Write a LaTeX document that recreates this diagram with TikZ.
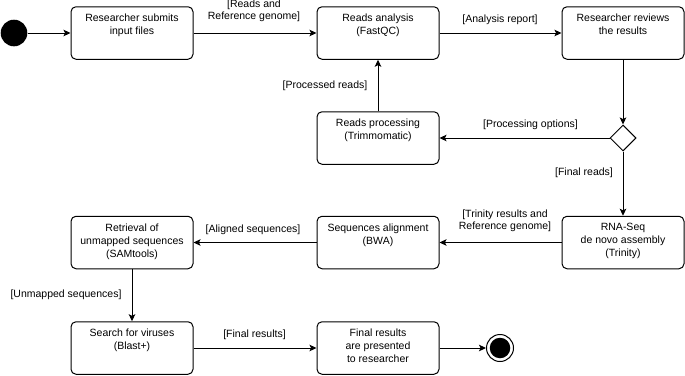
\documentclass[tikz,border=0pt]{standalone}
\usepackage{fontspec}
\setmainfont{Liberation Sans}
\usetikzlibrary{arrows.meta,shapes.geometric}
\tikzset{
  act/.style={draw=black,line width=1pt,rounded corners=5pt,minimum width=122pt,minimum height=52.5pt,inner sep=0pt},
  boxtxt/.style={anchor=north,inner sep=0pt,align=center,font=\fontsize{10.5}{13}\selectfont},
  lbl/.style={inner sep=0pt,align=center,font=\fontsize{10.5}{12}\selectfont},
  flow/.style={draw=black,line width=1pt,-{Stealth[length=7pt,width=6.5pt,inset=1.5pt]}},
  dec/.style={draw=black,line width=1pt,diamond,minimum width=26pt,minimum height=26pt,inner sep=0pt}
}
\begin{document}
\begin{tikzpicture}[x=1pt,y=-1pt]
\useasboundingbox (0,0) rectangle (685,375);
% start
\node[circle,fill=black,minimum size=26.6pt,inner sep=0pt] (start) at (14,33) {};
% boxes
\node[act] (b1) at (132,33) {};
\node[boxtxt] (t1) at ([yshift=-7.5pt]b1.north) {Researcher submits\\input files};
\node[act] (b2) at (378,33) {};
\node[boxtxt] (t2) at ([yshift=-7.5pt]b2.north) {Reads analysis\\(FastQC)};
\node[act] (b3) at (623,33) {};
\node[boxtxt] (t3) at ([yshift=-7.5pt]b3.north) {Researcher reviews\\the results};
\node[act] (proc) at (378,138) {};
\node[boxtxt] (tp) at ([yshift=-7.5pt]proc.north) {Reads processing\\(Trimmomatic)};
\node[dec] (d) at (623,138) {};
\node[act] (rna) at (623,242.5) {};
\node[boxtxt] (tr) at ([yshift=-7.5pt]rna.north) {RNA-Seq\\de novo assembly\\(Trinity)};
\node[act] (seq) at (378,242.5) {};
\node[boxtxt] (ts) at ([yshift=-7.5pt]seq.north) {Sequences alignment\\(BWA)};
\node[act] (ret) at (132,242.5) {};
\node[boxtxt] (tre) at ([yshift=-7.5pt]ret.north) {Retrieval of\\unmapped sequences\\(SAMtools)};
\node[act] (srch) at (132,348) {};
\node[boxtxt] (tsr) at ([yshift=-7.5pt]srch.north) {Search for viruses\\(Blast+)};
\node[act] (fin) at (378,348) {};
\node[boxtxt] (tf) at ([yshift=-7.5pt]fin.north) {Final results\\are presented\\to researcher};
% end
\node[circle,draw=black,line width=1pt,minimum size=27pt,inner sep=0pt] (end) at (500,348) {};
\node[circle,fill=black,minimum size=20.5pt,inner sep=0pt] (endin) at (500,348) {};
% connectors
\draw[flow] (start) -- (b1);
\draw[flow] (b1) -- (b2);
\draw[flow] (b2) -- (b3);
\draw[flow] (b3) -- (d);
\draw[flow] (d) -- (proc);
\draw[flow] (proc) -- (b2);
\draw[flow] (d) -- (rna);
\draw[flow] (rna) -- (seq);
\draw[flow] (seq) -- (ret);
\draw[flow] (ret) -- (srch);
\draw[flow] (srch) -- (fin);
\draw[flow] (fin) -- (end);
% labels
\node[lbl] (l1) at (254,11) {[Reads and\\Reference genome]};
\node[lbl] (l2) at (500,20) {[Analysis report]};
\node[lbl] (l3) at (325,86) {[Processed reads]};
\node[lbl] (l4) at (530.5,125) {[Processing options]};
\node[lbl] (l5) at (584,173) {[Final reads]};
\node[lbl] (l6) at (505,220.5) {[Trinity results and\\Reference genome]};
\node[lbl] (l7) at (253,230) {[Aligned sequences]};
\node[lbl] (l8) at (66,295) {[Unmapped sequences]};
\node[lbl] (l9) at (254.5,335) {[Final results]};
\end{tikzpicture}
\end{document}
